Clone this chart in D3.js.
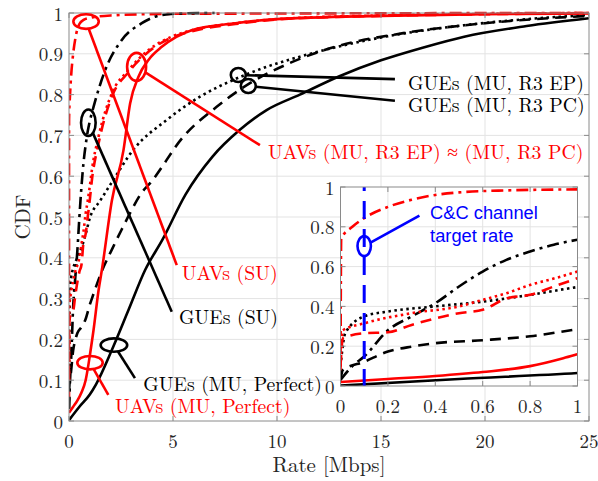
<!DOCTYPE html>
<html>
<head>
<meta charset="utf-8">
<script src="https://cdn.jsdelivr.net/npm/d3@7"></script>
<style>
  body { margin: 0; background: #fff; }
  svg { display: block; }
</style>
</head>
<body>
<div id="chart"></div>
<script>
// data: [rate in Mbps, CDF]
var uavSU = [[0,0.05],[0.003,0.74],[0.05,0.8],[0.1,0.844],[0.2,0.9],[0.3,0.936],[0.4,0.96],[0.5,0.973],[0.7,0.983],[1,0.988],[2,0.994],[5,0.998],[25,1]];
var gueSU = [[0,0.03],[0.05,0.1],[0.1,0.148],[0.2,0.28],[0.3,0.35],[0.4,0.416],[0.5,0.5],[0.6,0.575],[0.7,0.634],[0.8,0.676],[0.9,0.71],[1,0.735],[1.18,0.77],[1.74,0.86],[2.54,0.934],[3.5,0.975],[4.46,0.995],[5.5,0.999],[7,1]];
var uavMUpc = [[0,0.1],[0.01,0.28],[0.1,0.315],[0.3,0.366],[0.5,0.4],[0.6,0.433],[0.7,0.466],[0.8,0.508],[0.9,0.54],[1,0.575],[1.1,0.615],[1.42,0.697],[2.06,0.803],[2.86,0.86],[3.82,0.909],[4.94,0.942],[5.9,0.958],[8,0.975],[10,0.985],[15,0.994],[20,0.998],[25,1]];
var uavMUep = [[0,0.1],[0.01,0.24],[0.1,0.265],[0.2,0.27],[0.3,0.307],[0.5,0.366],[0.6,0.383],[0.7,0.44],[0.8,0.458],[0.9,0.5],[1,0.542],[1.1,0.59],[1.42,0.68],[2.06,0.795],[2.86,0.855],[3.82,0.905],[4.94,0.94],[5.9,0.955],[8,0.973],[10,0.984],[15,0.993],[20,0.997],[25,1]];
var uavMUperf = [[0,0.02],[0.2,0.035],[0.4,0.05],[0.6,0.07],[0.8,0.1],[0.94,0.14],[1,0.16],[1.18,0.223],[1.42,0.32],[1.58,0.37],[2.06,0.54],[2.62,0.664],[2.94,0.779],[3.34,0.844],[3.82,0.885],[4.46,0.917],[5.9,0.958],[8,0.975],[10,0.985],[15,0.993],[20,0.997],[25,0.999]];
var gueMUep = [[0,0.1],[0.02,0.265],[0.1,0.35],[0.2,0.374],[0.4,0.4],[0.6,0.424],[0.8,0.458],[1,0.497],[1.5,0.54],[2.06,0.585],[3.08,0.664],[4.7,0.738],[6.3,0.795],[7.9,0.836],[9.5,0.868],[11.1,0.893],[15,0.94],[19,0.97],[22,0.985],[25,0.995]];
var gueMUpc = [[0,0.03],[0.01,0.08],[0.1,0.122],[0.2,0.173],[0.3,0.198],[0.4,0.215],[0.6,0.23],[0.8,0.25],[1,0.285],[1.1,0.3],[1.6,0.37],[2.06,0.42],[2.54,0.47],[2.94,0.51],[3.5,0.56],[3.9,0.583],[5.5,0.697],[7.1,0.77],[8.7,0.828],[10.6,0.877],[13,0.92],[16,0.95],[20,0.975],[25,0.993]];
var gueMUperf = [[0,0.002],[0.5,0.035],[1,0.065],[1.3,0.09],[2.06,0.174],[2.86,0.272],[3.66,0.37],[4.5,0.445],[5.6,0.555],[6.9,0.648],[8.2,0.713],[9.5,0.762],[11.1,0.8],[13,0.845],[15,0.884],[17,0.915],[19,0.942],[22,0.968],[25,0.987]];

var xTicks = [0, 5, 10, 15, 20, 25];
var yTicks = [0, 0.1, 0.2, 0.3, 0.4, 0.5, 0.6, 0.7, 0.8, 0.9, 1];
var insetTicks = [0, 0.2, 0.4, 0.6, 0.8, 1];
var targetRate = 0.1;

var series = [
  {name: "uavSU", values: uavSU, color: "#ff0000", dash: "12,5,3,5"},
  {name: "gueSU", values: gueSU, color: "#000", dash: "12,5,3,5"},
  {name: "gueMUep", values: gueMUep, color: "#000", dash: "2.5,3.5"},
  {name: "gueMUpc", values: gueMUpc, color: "#000", dash: "11,7"},
  {name: "gueMUperf", values: gueMUperf, color: "#000", dash: null},
  {name: "uavMUpc", values: uavMUpc, color: "#ff0000", dash: "2.5,3.5"},
  {name: "uavMUep", values: uavMUep, color: "#ff0000", dash: "11,7"},
  {name: "uavMUperf", values: uavMUperf, color: "#ff0000", dash: null}
];

// callouts: ellipse center in data units, radii in px, line end and label in data units
var notes = [
  {text: "GUEs (MU, R3 EP)", color: "#000", c: [8.14, 0.848], r: [7.5, 7], end: [15.67, 0.838], lab: [16.3, 0.83]},
  {text: "GUEs (MU, R3 PC)", color: "#000", c: [8.62, 0.821], r: [7.5, 7], end: [15.67, 0.785], lab: [16.3, 0.778]},
  {text: "UAVs (MU, R3 EP) \u2248 (MU, R3 PC)", color: "#ff0000", c: [3.25, 0.868], r: [9.5, 14], end: [9.18, 0.676], lab: [9.57, 0.662]},
  {text: "UAVs (SU)", color: "#ff0000", c: [0.82, 0.979], r: [12.7, 7.3], end: [5.18, 0.382], lab: [5.42, 0.365]},
  {text: "GUEs (SU)", color: "#000", c: [0.93, 0.731], r: [7.3, 13.3], end: [4.94, 0.268], lab: [5.29, 0.257]},
  {text: "GUEs (MU, Perfect)", color: "#000", c: [2.16, 0.186], r: [13.3, 6.7], end: [3.17, 0.105], lab: [3.57, 0.093]},
  {text: "UAVs (MU, Perfect)", color: "#ff0000", c: [1.01, 0.143], r: [12.7, 6.7], end: [1.89, 0.064], lab: [2.21, 0.04]}
];

const width = 598, height = 481;
const frameColor = "#8a8a8a", gridColor = "#e3e3e3", labelColor = "#262626";
const serif = "'Latin Modern Roman', 'CMU Serif', 'Liberation Serif', serif";
const sans = "'Liberation Sans', Arial, sans-serif";

const svg = d3.select("#chart").append("svg")
  .attr("width", width).attr("height", height)
  .attr("font-family", serif);

const x = d3.scaleLinear().domain([0, 25]).range([69, 589]);
const y = d3.scaleLinear().domain([0, 1]).range([421, 13]);

const defs = svg.append("defs");
defs.append("clipPath").attr("id", "mainClip").append("rect")
  .attr("x", x(0)).attr("y", y(1) - 2).attr("width", x(25) - x(0)).attr("height", y(0) - y(1) + 2);

// grid
svg.append("g").selectAll("line").data(xTicks.slice(1, -1)).join("line")
  .attr("x1", d => x(d)).attr("x2", d => x(d)).attr("y1", y(0)).attr("y2", y(1))
  .attr("stroke", gridColor).attr("stroke-width", 1);
svg.append("g").selectAll("line").data(yTicks.slice(1, -1)).join("line")
  .attr("y1", d => y(d)).attr("y2", d => y(d)).attr("x1", x(0)).attr("x2", x(25))
  .attr("stroke", gridColor).attr("stroke-width", 1);

function drawAxes(g, xs, ys, xt, yt, fmt) {
  const [x0, x1] = xs.range(), [y0, y1] = ys.range();
  const tl = 5;
  g.append("g").selectAll("line").data(xt).join("line")
    .attr("x1", d => xs(d)).attr("x2", d => xs(d)).attr("y1", y0).attr("y2", y0 - tl)
    .attr("stroke", frameColor);
  g.append("g").selectAll("line").data(xt).join("line")
    .attr("x1", d => xs(d)).attr("x2", d => xs(d)).attr("y1", y1).attr("y2", y1 + tl)
    .attr("stroke", frameColor);
  g.append("g").selectAll("line").data(yt).join("line")
    .attr("y1", d => ys(d)).attr("y2", d => ys(d)).attr("x1", x0).attr("x2", x0 + tl)
    .attr("stroke", frameColor);
  g.append("g").selectAll("line").data(yt).join("line")
    .attr("y1", d => ys(d)).attr("y2", d => ys(d)).attr("x1", x1).attr("x2", x1 - tl)
    .attr("stroke", frameColor);
  g.append("rect").attr("x", x0).attr("y", y1).attr("width", x1 - x0).attr("height", y0 - y1)
    .attr("fill", "none").attr("stroke", frameColor).attr("stroke-width", 1);
  g.append("g").selectAll("text").data(xt).join("text")
    .attr("x", d => xs(d)).attr("y", y0 + 19).attr("text-anchor", "middle")
    .attr("dominant-baseline", "central").attr("font-size", 19).attr("fill", labelColor)
    .text(fmt);
  g.append("g").selectAll("text").data(yt).join("text")
    .attr("x", x0 - 6).attr("y", d => ys(d)).attr("text-anchor", "end")
    .attr("dominant-baseline", "central").attr("font-size", 19).attr("fill", labelColor)
    .text(fmt);
}

function drawCurves(g, xs, ys, clipId) {
  const line = d3.line().x(d => xs(d[0])).y(d => ys(d[1])).curve(d3.curveMonotoneX);
  g.append("g").attr("clip-path", `url(#${clipId})`)
    .selectAll("path").data(series).join("path")
    .attr("d", d => line(d.values))
    .attr("fill", "none").attr("stroke", d => d.color)
    .attr("stroke-width", 2.6)
    .attr("stroke-dasharray", d => d.dash)
    .attr("stroke-linejoin", "round");
}

drawCurves(svg, x, y, "mainClip");
drawAxes(svg, x, y, xTicks, yTicks, d => String(d));

svg.append("text").attr("x", (x(0) + x(25)) / 2).attr("y", 463)
  .attr("text-anchor", "middle").attr("dominant-baseline", "central")
  .attr("font-size", 21).attr("fill", labelColor).text("Rate [Mbps]");
svg.append("text").attr("transform", `translate(21,${(y(0) + y(1)) / 2}) rotate(-90)`)
  .attr("text-anchor", "middle").attr("dominant-baseline", "central")
  .attr("font-size", 21).attr("fill", labelColor).text("CDF");

// callouts
function callout(g, xs, ys, n, size, family) {
  const cx = xs(n.c[0]), cy = ys(n.c[1]);
  const ex = xs(n.end[0]), ey = ys(n.end[1]);
  const t = Math.atan2((ey - cy) / n.r[1], (ex - cx) / n.r[0]);
  g.append("ellipse").attr("cx", cx).attr("cy", cy).attr("rx", n.r[0]).attr("ry", n.r[1])
    .attr("fill", "none").attr("stroke", n.color).attr("stroke-width", 2.6);
  g.append("line")
    .attr("x1", cx + n.r[0] * Math.cos(t)).attr("y1", cy + n.r[1] * Math.sin(t))
    .attr("x2", ex).attr("y2", ey)
    .attr("stroke", n.color).attr("stroke-width", 2.6);
  [].concat(n.text).forEach(function (s, i) {
    g.append("text").attr("x", xs(n.lab[0])).attr("y", ys(n.lab[1]) + i * 23)
      .attr("dominant-baseline", "central").attr("font-size", size)
      .attr("font-family", family).attr("fill", n.color).text(s);
  });
}
notes.forEach(n => callout(svg, x, y, n, 19.7, serif));

// inset zoom on [0, 1] Mbps
const ix = d3.scaleLinear().domain([0, 1]).range([340.5, 577.5]);
const iy = d3.scaleLinear().domain([0, 1]).range([386, 187]);
const inset = svg.append("g");
defs.append("clipPath").attr("id", "insetClip").append("rect")
  .attr("x", ix(0)).attr("y", iy(1) - 2).attr("width", ix(1) - ix(0)).attr("height", iy(0) - iy(1) + 2);

inset.append("rect").attr("x", ix(0)).attr("y", iy(1))
  .attr("width", ix(1) - ix(0)).attr("height", iy(0) - iy(1)).attr("fill", "#fff");
inset.append("g").selectAll("line").data(insetTicks.slice(1, -1)).join("line")
  .attr("x1", d => ix(d)).attr("x2", d => ix(d)).attr("y1", iy(0)).attr("y2", iy(1))
  .attr("stroke", gridColor);
inset.append("g").selectAll("line").data(insetTicks.slice(1, -1)).join("line")
  .attr("y1", d => iy(d)).attr("y2", d => iy(d)).attr("x1", ix(0)).attr("x2", ix(1))
  .attr("stroke", gridColor);

drawCurves(inset, ix, iy, "insetClip");

inset.append("line")
  .attr("x1", ix(targetRate)).attr("x2", ix(targetRate)).attr("y1", iy(1)).attr("y2", iy(0))
  .attr("stroke", "#0000ff").attr("stroke-width", 3)
  .attr("stroke-dasharray", "18,10").attr("stroke-dashoffset", 14);

drawAxes(inset, ix, iy, insetTicks, insetTicks, d => String(d));

callout(inset, ix, iy, {
  text: ["C&C channel", "target rate"], color: "#0000ff",
  c: [targetRate, 0.703], r: [6.7, 10], end: [0.333, 0.856], lab: [0.378, 0.873]
}, 18.3, sans);
</script>
</body>
</html>
